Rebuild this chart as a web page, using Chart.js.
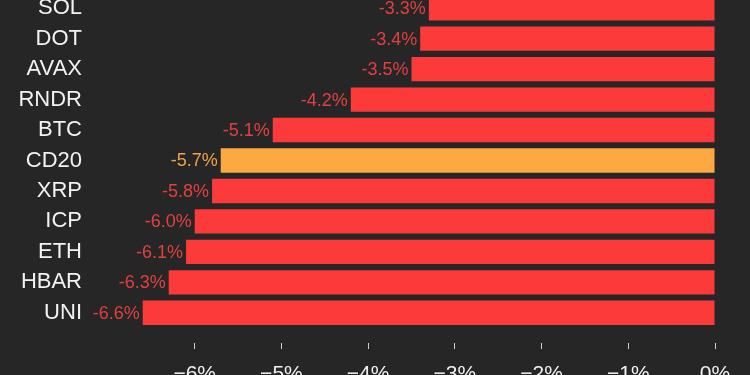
<!DOCTYPE html>
<html>
<head>
<meta charset="utf-8">
<script src="https://cdn.jsdelivr.net/npm/chart.js@4/dist/chart.umd.min.js"></script>
<style>
  html, body { margin:0; padding:0; background:#262626; overflow:hidden; width:750px; height:375px; }
  #wrap { position:absolute; left:0; top:-7px; width:750px; height:400px; }
</style>
</head>
<body>
<div id="wrap"><canvas id="c" width="750" height="400"></canvas></div>
<script>
const categories = ["SOL","DOT","AVAX","RNDR","BTC","CD20","XRP","ICP","ETH","HBAR","UNI"];
const changes = [-3.3,-3.4,-3.5,-4.2,-5.1,-5.7,-5.8,-6.0,-6.1,-6.3,-6.6];
const highlight = "CD20";
const tickValues = [-6,-5,-4,-3,-2,-1,0];

const RED = '#fc3a3a', ORANGE = '#fba940';
const LABEL_RED = '#e2403f', LABEL_ORANGE = '#f0a246';

const valueLabels = {
  id:'valueLabels',
  afterDatasetsDraw(chart){
    const ctx = chart.ctx;
    const meta = chart.getDatasetMeta(0);
    ctx.save();
    ctx.font = '18px "Liberation Sans", Arial, sans-serif';
    ctx.textAlign = 'right';
    ctx.textBaseline = 'middle';
    meta.data.forEach((bar,i)=>{
      ctx.fillStyle = categories[i]===highlight ? LABEL_ORANGE : LABEL_RED;
      ctx.fillText(changes[i].toFixed(1)+'%', bar.x - 3, bar.y + 1);
    });
    ctx.restore();
  }
};

new Chart(document.getElementById('c'), {
  type:'bar',
  data:{
    labels:categories,
    datasets:[{
      data:changes,
      backgroundColor:categories.map(c=>c===highlight?ORANGE:RED),
      barPercentage:0.8,
      categoryPercentage:1.0,
      borderWidth:0
    }]
  },
  options:{
    indexAxis:'y',
    responsive:false,
    animation:false,
    layout:{ padding:{ left:0, right:35, top:0, bottom:0 } },
    plugins:{ legend:{display:false}, tooltip:{enabled:false} },
    scales:{
      x:{
        min:-7, max:0,
        afterBuildTicks(s){ s.ticks = tickValues.map(v=>({value:v})); },
        afterFit(s){ s.height = 65; s.paddingLeft = 0; s.paddingRight = 0; },
        grid:{ drawOnChartArea:false, drawTicks:true, tickLength:21, tickColor:'#d0d0d0', tickWidth:1, tickBorderDash:[0,15,6,100] },
        border:{ display:false },
        ticks:{
          color:'#f0f0f0',
          padding:13,
          font:{ family:'"Liberation Sans", Arial, sans-serif', size:21 },
          callback:v => (v<0 ? '\u2212' + Math.abs(v) : v) + '%',
          maxRotation:0, autoSkip:false
        }
      },
      y:{
        afterFit(s){ s.width = 108; s.paddingTop = 0; s.paddingBottom = 0; },
        grid:{ display:false, drawTicks:false },
        border:{ display:false },
        ticks:{
          color:'#f2f2f2',
          padding:26,
          autoSkip:false,
          font:{ family:'"Liberation Sans", Arial, sans-serif', size:22 }
        }
      }
    }
  },
  plugins:[valueLabels]
});
</script>
</body>
</html>
